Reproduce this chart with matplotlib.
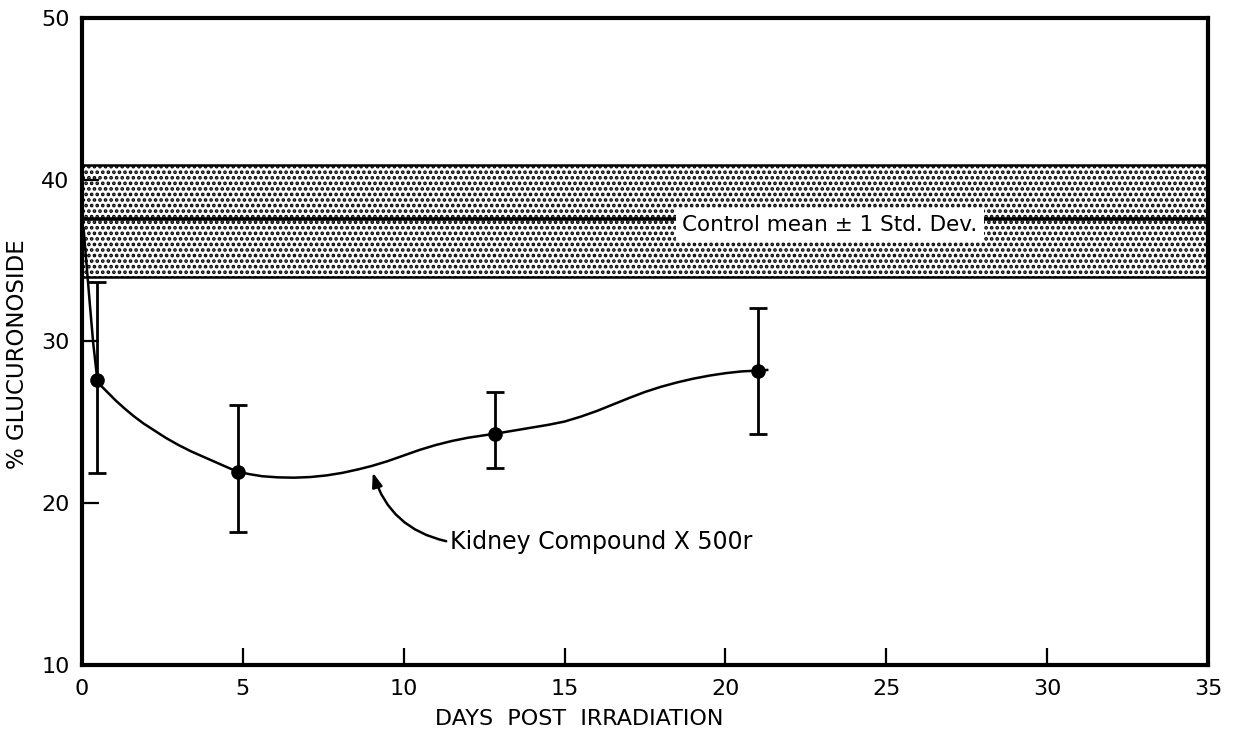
import matplotlib
matplotlib.use("Agg")
import matplotlib.pyplot as plt

# measured points (days post irradiation, % glucuronoside)
days = [0.48, 4.85, 12.85, 21.0]
glucuronoside = [27.6, 21.95, 24.3, 28.2]
err_low = [21.9, 18.2, 22.2, 24.25]
err_high = [33.7, 26.1, 26.9, 32.1]

# hand drawn trend curve
curve_days = [0.05, 0.15, 0.25, 0.35, 0.48, 0.6, 0.8, 1.05, 1.3, 1.6, 1.9, 2.25,
              2.6, 3.0, 3.4, 3.8, 4.2, 4.6, 4.85, 5.2, 5.6, 6.1, 6.6, 7.1, 7.6,
              8.1, 8.6, 9.0, 9.5, 10.0, 10.5, 11.0, 11.5, 12.0, 12.5, 12.85,
              13.3, 13.9, 14.5, 15.0, 15.5, 16.0, 16.5, 17.0, 17.5, 18.0, 18.5,
              19.0, 19.5, 20.0, 20.5, 21.0, 21.3]
curve_vals = [37.0, 34.6, 32.2, 29.9, 27.6, 27.25, 26.85, 26.35, 25.9, 25.4, 24.95, 24.5,
              24.05, 23.6, 23.2, 22.85, 22.5, 22.15, 21.95, 21.8, 21.67, 21.6, 21.58, 21.62, 21.72,
              21.88, 22.1, 22.3, 22.6, 22.95, 23.3, 23.6, 23.85, 24.05, 24.2, 24.3,
              24.45, 24.65, 24.85, 25.05, 25.35, 25.7, 26.1, 26.5, 26.88, 27.2, 27.47,
              27.7, 27.89, 28.04, 28.15, 28.2, 28.24]

# control band
control_mean = 37.6
control_sd_low = 34.0
control_sd_high = 40.9

x_ticks = [0, 5, 10, 15, 20, 25, 30, 35]
y_ticks = [10, 20, 30, 40, 50]

plt.rcParams['hatch.linewidth'] = 1.8

fig = plt.figure(figsize=(12.36, 7.37), dpi=100)
ax = fig.add_axes([0.0663, 0.0977, 0.9110, 0.8779])

# stippled band for control mean +/- 1 SD
ax.fill_between([0, 35], control_sd_low, control_sd_high, facecolor='white',
                edgecolor='black', hatch='...', linewidth=0, zorder=1)
ax.axhline(control_sd_low, color='black', lw=1.8, zorder=2)
ax.axhline(control_sd_high, color='black', lw=1.8, zorder=2)
ax.axhline(control_mean, color='black', lw=2.6, zorder=2)
ax.text(23.25, 37.2, "Control mean \u00b1 1 Std. Dev.", ha='center', va='center',
        fontsize=15.5, zorder=4,
        bbox=dict(boxstyle='square,pad=0.3', facecolor='white', edgecolor='none'))

# curve and data
ax.plot(curve_days, curve_vals, color='black', lw=1.8, zorder=3)
yerr = [[g - lo for g, lo in zip(glucuronoside, err_low)],
        [hi - g for g, hi in zip(glucuronoside, err_high)]]
ax.errorbar(days, glucuronoside, yerr=yerr, fmt='o', color='black', ms=9.5,
            elinewidth=2, capsize=6.5, capthick=2, zorder=4)

ax.annotate("Kidney Compound X 500r", xy=(9.04, 21.9), xytext=(11.45, 17.6),
            ha='left', va='center', fontsize=17,
            arrowprops=dict(arrowstyle='-|>,head_length=0.5,head_width=0.18',
                            color='black', lw=1.8, relpos=(0, 0.5),
                            shrinkA=1, shrinkB=0,
                            connectionstyle='arc3,rad=-0.3'))

ax.set_xlim(0, 35)
ax.set_ylim(10, 50)
ax.set_xticks(x_ticks)
ax.set_yticks(y_ticks)
ax.tick_params(direction='in', length=12, width=1.6, labelsize=16)
ax.tick_params(axis='x', pad=10)
ax.tick_params(axis='y', pad=9)
for s in ax.spines.values():
    s.set_linewidth(3)

ax.set_xlabel("DAYS  POST  IRRADIATION", fontsize=16)
ax.set_ylabel("% GLUCURONOSIDE", fontsize=16.5)
ax.xaxis.set_label_coords(0.442, -0.068)
ax.yaxis.set_label_coords(-0.047, 0.48)

fig.savefig("out.png", dpi=100)
